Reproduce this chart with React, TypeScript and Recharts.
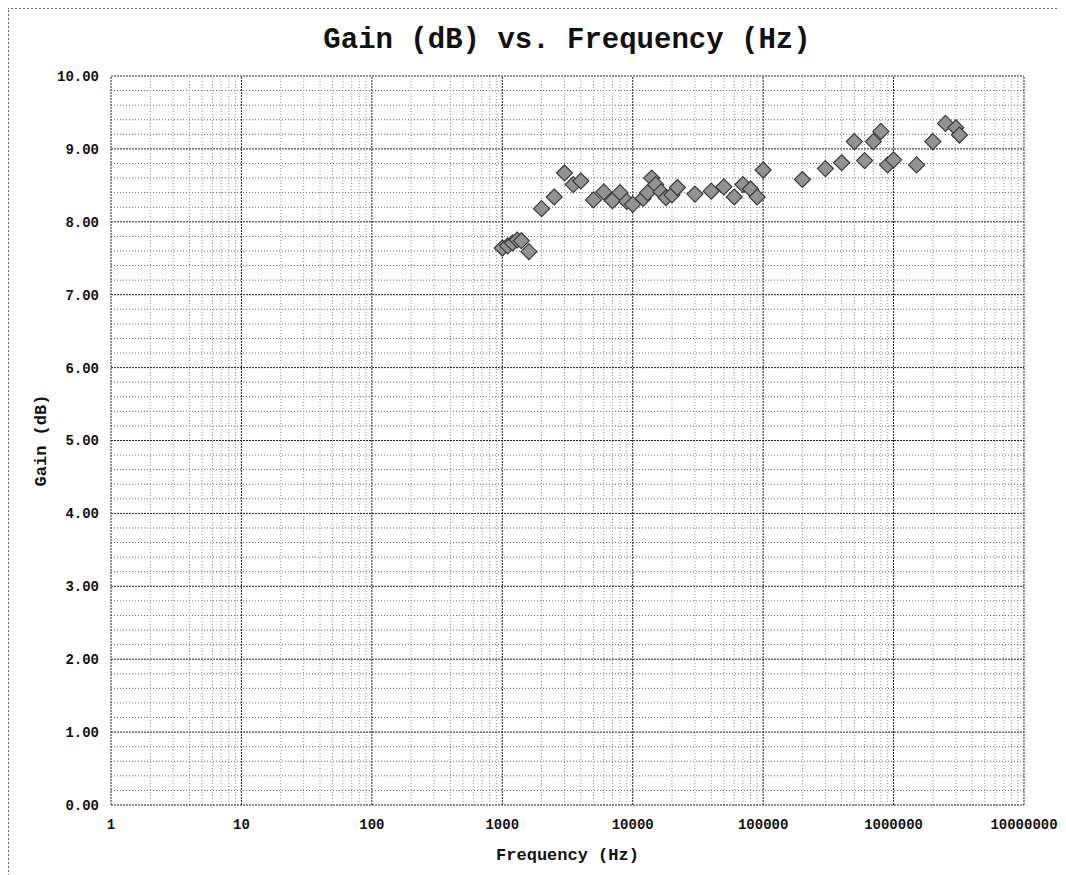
import React from 'react';
import { ScatterChart, Scatter, XAxis, YAxis, ReferenceLine, Label } from 'recharts';

const freqHz = [
    1000, 1100, 1200, 1300, 1400, 1600, 2000, 2500, 3000, 3500, 4000, 5000, 6000, 7000, 8000, 9000,
    10000, 12000, 13000, 14000, 15000, 16500, 18000, 20000, 22000, 30000, 40000, 50000, 60000, 70000,
    80000, 90000, 100000, 200000, 300000, 400000, 500000, 600000, 700000, 800000, 900000, 1000000,
    1500000, 2000000, 2500000, 3000000, 3200000,
];
const gainDb = [
    7.64, 7.67, 7.71, 7.75, 7.74, 7.59, 8.18, 8.34, 8.67, 8.51, 8.56, 8.3, 8.41, 8.29, 8.4, 8.28,
    8.24, 8.32, 8.4, 8.6, 8.51, 8.41, 8.33, 8.37, 8.47, 8.38, 8.42, 8.48, 8.34, 8.51,
    8.45, 8.34, 8.71, 8.58, 8.73, 8.81, 9.1, 8.84, 9.1, 9.24, 8.78, 8.85,
    8.78, 9.1, 9.35, 9.29, 9.19,
];

const xTicks = [1, 10, 100, 1000, 10000, 100000, 1000000, 10000000];
const yTicks = [0, 1, 2, 3, 4, 5, 6, 7, 8, 9, 10];
const xMinor = xTicks.slice(0, -1).flatMap((d) => [2, 3, 4, 5, 6, 7, 8, 9].map((k) => k * d));
const yMinor = yTicks.slice(0, -1).flatMap((v) => [0.2, 0.4, 0.6, 0.8].map((s) => +(v + s).toFixed(1)));

const data = freqHz.map((f, i) => ({ f, g: gainDb[i] }));

const FONT = '"Liberation Mono", "Courier New", monospace';
const tickStyle = { fontFamily: FONT, fontWeight: 700, fontSize: 14, fill: '#111' };
const axisTitle = { fontFamily: FONT, fontWeight: 700, fontSize: 17, fill: '#111' };

const Diamond = (props: any) => {
    const { cx, cy } = props;
    const r = 8;
    return (
        <polygon
            points={`${cx},${cy - r} ${cx + r},${cy} ${cx},${cy + r} ${cx - r},${cy}`}
            fill="#929292"
            stroke="#3a3a3a"
            strokeWidth={1.2}
        />
    );
};

export default function App() {
    return (
        <div style={{ position: 'relative', width: 1058, height: 867 }}>
            <div
                style={{
                    position: 'absolute',
                    left: -1,
                    top: -1,
                    width: 1054,
                    height: 870,
                    zIndex: 2,
                    pointerEvents: 'none',
                    borderLeft: '2px dotted #666',
                    borderTop: '2px dotted #666',
                    borderRight: '2px dotted #666',
                }}
            />
            <div
                style={{
                    position: 'absolute',
                    left: 0,
                    top: 16,
                    width: 1118,
                    textAlign: 'center',
                    fontFamily: FONT,
                    fontWeight: 700,
                    fontSize: 29,
                    lineHeight: '34px',
                    color: '#111',
                }}
            >
                Gain (dB) vs. Frequency (Hz)
            </div>
            <ScatterChart width={1058} height={867} margin={{ top: 68, right: 42, left: 43, bottom: 40 }}>
                {yMinor.map((v) => (
                    <ReferenceLine key={'ym' + v} y={v} stroke="#666" strokeDasharray="1 2" strokeWidth={1} />
                ))}
                {xMinor.map((v) => (
                    <ReferenceLine key={'xm' + v} x={v} stroke="#999" strokeDasharray="1 2" strokeWidth={1} />
                ))}
                {yTicks.map((v) => (
                    <ReferenceLine key={'yM' + v} y={v} stroke="#222" strokeDasharray="2 1" strokeWidth={1} />
                ))}
                {xTicks.map((v) => (
                    <ReferenceLine key={'xM' + v} x={v} stroke="#222" strokeDasharray="2 1" strokeWidth={1} />
                ))}
                <XAxis
                    dataKey="f"
                    type="number"
                    scale="log"
                    domain={[1, 10000000]}
                    ticks={xTicks}
                    allowDataOverflow
                    height={30}
                    axisLine={false}
                    tickLine={false}
                    tick={tickStyle}
                    tickMargin={8}
                    tickFormatter={(v: number) => String(v)}
                >
                    <Label value="Frequency (Hz)" position="insideBottom" offset={-25} style={axisTitle} />
                </XAxis>
                <YAxis
                    dataKey="g"
                    type="number"
                    domain={[0, 10]}
                    ticks={yTicks}
                    width={60}
                    axisLine={false}
                    tickLine={false}
                    tick={tickStyle}
                    tickMargin={6}
                    tickFormatter={(v: number) => v.toFixed(2)}
                >
                    <Label
                        value="Gain (dB)"
                        angle={-90}
                        position="insideLeft"
                        offset={-11}
                        style={{ ...axisTitle, textAnchor: 'middle' }}
                    />
                </YAxis>
                <Scatter data={data} shape={<Diamond />} isAnimationActive={false} />
            </ScatterChart>
        </div>
    );
}
